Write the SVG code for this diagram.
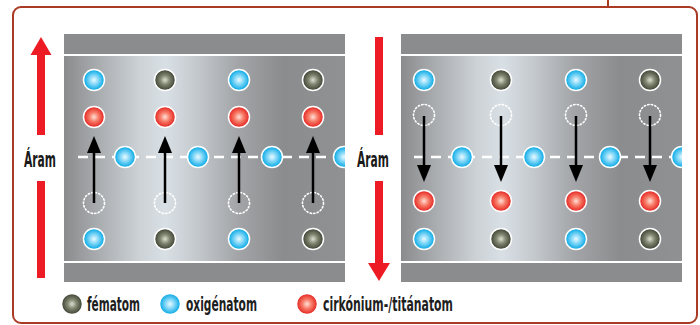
<svg xmlns="http://www.w3.org/2000/svg" xmlns:xlink="http://www.w3.org/1999/xlink" width="700" height="325" viewBox="0 0 700 325">
  <style>
    .frame { fill: none; stroke: #aa3a24; stroke-width: 2; }
    .band { fill: #8b8c8e; }
    .sep { fill: #ffffff; }
    .dash { stroke: #ffffff; stroke-width: 2.5; stroke-dasharray: 10 7; fill: none; }
    .ghost { fill: none; stroke: #ffffff; stroke-width: 1.6; stroke-dasharray: 1.4 2.2; stroke-linecap: round; }
    .shaft { stroke: #000000; stroke-width: 2.5; fill: none; }
    .head { fill: #000000; }
    .red { fill: #ed1c24; }
    .lbl { font-family: "Liberation Sans Narrow", "DejaVu Sans Condensed", "Liberation Sans", sans-serif; font-weight: bold; font-size: 21px; fill: #1a1a1a; }
    .leg { font-family: "Liberation Sans Narrow", "DejaVu Sans Condensed", "Liberation Sans", sans-serif; font-weight: bold; font-size: 20px; fill: #1e1e1e; }
    .atom { stroke: #ffffff; stroke-width: 1.5; }
  </style>
  <defs>
    <linearGradient id="metal" x1="0" y1="0" x2="1" y2="0">
      <stop offset="0" stop-color="#8a8b8d"/>
      <stop offset="0.12" stop-color="#a9acaf"/>
      <stop offset="0.27" stop-color="#ccd2d6"/>
      <stop offset="0.36" stop-color="#d9e0e5"/>
      <stop offset="0.48" stop-color="#c2c7cb"/>
      <stop offset="0.62" stop-color="#a2a4a7"/>
      <stop offset="0.78" stop-color="#8b8c8e"/>
      <stop offset="1" stop-color="#909193"/>
    </linearGradient>
    <radialGradient id="gBlue" cx="0.5" cy="0.5" r="0.5">
      <stop offset="0" stop-color="#eafaff"/>
      <stop offset="0.45" stop-color="#7fd6f7"/>
      <stop offset="1" stop-color="#00a6e4"/>
    </radialGradient>
    <radialGradient id="gRed" cx="0.5" cy="0.5" r="0.5">
      <stop offset="0" stop-color="#ffe0d8"/>
      <stop offset="0.45" stop-color="#f77a66"/>
      <stop offset="1" stop-color="#e3211f"/>
    </radialGradient>
    <radialGradient id="gDark" cx="0.5" cy="0.5" r="0.5">
      <stop offset="0" stop-color="#dcdfd0"/>
      <stop offset="0.45" stop-color="#7f8570"/>
      <stop offset="1" stop-color="#3b4131"/>
    </radialGradient>
    <symbol id="oxy" overflow="visible"><circle class="atom" r="10.5" fill="url(#gBlue)"/></symbol>
    <symbol id="zr" overflow="visible"><circle class="atom" r="10.5" fill="url(#gRed)"/></symbol>
    <symbol id="fe" overflow="visible"><circle class="atom" r="10.5" fill="url(#gDark)"/></symbol>
    <symbol id="vac" overflow="visible"><circle class="ghost" r="10.5"/></symbol>
    <clipPath id="clipL"><rect x="64" y="34" width="281" height="248"/></clipPath>
    <clipPath id="clipR"><rect x="401" y="34" width="281" height="248"/></clipPath>
  </defs>

  <rect width="700" height="325" fill="#ffffff"/>

  <!-- outer frame with tab line -->
  <g id="frame">
    <rect class="frame" x="13" y="7" width="684" height="316" rx="8"/>
    <line class="frame" x1="608" y1="0" x2="608" y2="7"/>
  </g>

  <!-- left panel: ions move upward -->
  <g id="panel-left" clip-path="url(#clipL)">
    <rect class="band" x="64" y="34" width="281" height="20"/>
    <rect class="sep" x="64" y="54" width="281" height="2"/>
    <rect x="64" y="56" width="281" height="205" fill="url(#metal)"/>
    <rect class="sep" x="64" y="261" width="281" height="2"/>
    <rect class="band" x="64" y="263" width="281" height="19"/>
    <line class="dash" x1="78" y1="157" x2="345" y2="157"/>
    <g id="left-top-row">
      <use href="#oxy" x="94" y="80"/>
      <use href="#fe" x="165" y="80"/>
      <use href="#oxy" x="239" y="80"/>
      <use href="#fe" x="313" y="80"/>
    </g>
    <g id="left-cations">
      <use href="#zr" x="94" y="117"/>
      <use href="#zr" x="165" y="117"/>
      <use href="#zr" x="239" y="117"/>
      <use href="#zr" x="313" y="117"/>
    </g>
    <g id="left-vacancies">
      <use href="#vac" x="94" y="203"/>
      <use href="#vac" x="165" y="203"/>
      <use href="#vac" x="239" y="203"/>
      <use href="#vac" x="313" y="203"/>
    </g>
    <g id="left-mid-row">
      <use href="#oxy" x="125" y="157"/>
      <use href="#oxy" x="198" y="157"/>
      <use href="#oxy" x="272" y="157"/>
      <use href="#oxy" x="344" y="157"/>
    </g>
    <g id="left-bottom-row">
      <use href="#oxy" x="94" y="239"/>
      <use href="#fe" x="165" y="239"/>
      <use href="#oxy" x="239" y="239"/>
      <use href="#fe" x="313" y="239"/>
    </g>
  </g>

  <!-- right panel: ions move downward -->
  <g id="panel-right" clip-path="url(#clipR)">
    <rect class="band" x="401" y="34" width="281" height="20"/>
    <rect class="sep" x="401" y="54" width="281" height="2"/>
    <rect x="401" y="56" width="281" height="205" fill="url(#metal)"/>
    <rect class="sep" x="401" y="261" width="281" height="2"/>
    <rect class="band" x="401" y="263" width="281" height="19"/>
    <line class="dash" x1="414" y1="157" x2="682" y2="157"/>
    <g id="right-top-row">
      <use href="#oxy" x="424" y="80"/>
      <use href="#fe" x="501" y="80"/>
      <use href="#oxy" x="576" y="80"/>
      <use href="#fe" x="650" y="80"/>
    </g>
    <g id="right-vacancies">
      <use href="#vac" x="424" y="115"/>
      <use href="#vac" x="501" y="115"/>
      <use href="#vac" x="576" y="115"/>
      <use href="#vac" x="650" y="115"/>
    </g>
    <g id="right-mid-row">
      <use href="#oxy" x="462" y="157"/>
      <use href="#oxy" x="534" y="157"/>
      <use href="#oxy" x="610" y="157"/>
      <use href="#oxy" x="682" y="157"/>
    </g>
    <g id="right-cations">
      <use href="#zr" x="424" y="201"/>
      <use href="#zr" x="501" y="201"/>
      <use href="#zr" x="576" y="201"/>
      <use href="#zr" x="650" y="201"/>
    </g>
    <g id="right-bottom-row">
      <use href="#oxy" x="424" y="239"/>
      <use href="#fe" x="501" y="239"/>
      <use href="#oxy" x="576" y="239"/>
      <use href="#fe" x="650" y="239"/>
    </g>
  </g>

  <!-- ion displacement arrows -->
  <g id="connectors">
    <g id="moves-up">
      <line class="shaft" x1="94" y1="203" x2="94" y2="150"/>
      <polygon class="head" points="94,136 87,153 101,153"/>
      <line class="shaft" x1="165" y1="203" x2="165" y2="150"/>
      <polygon class="head" points="165,136 158,153 172,153"/>
      <line class="shaft" x1="239" y1="203" x2="239" y2="150"/>
      <polygon class="head" points="239,136 232,153 246,153"/>
      <line class="shaft" x1="313" y1="203" x2="313" y2="150"/>
      <polygon class="head" points="313,136 306,153 320,153"/>
    </g>
    <g id="moves-down">
      <line class="shaft" x1="424" y1="116" x2="424" y2="168"/>
      <polygon class="head" points="424,182 417,165 431,165"/>
      <line class="shaft" x1="501" y1="116" x2="501" y2="168"/>
      <polygon class="head" points="501,182 494,165 508,165"/>
      <line class="shaft" x1="576" y1="116" x2="576" y2="168"/>
      <polygon class="head" points="576,182 569,165 583,165"/>
      <line class="shaft" x1="650" y1="116" x2="650" y2="168"/>
      <polygon class="head" points="650,182 643,165 657,165"/>
    </g>
  </g>

  <!-- current direction, left -->
  <g id="current-left">
    <polygon class="red" points="41,37 30.5,55 51.5,55"/>
    <rect class="red" x="37" y="54" width="8" height="81"/>
    <text class="lbl" x="40" y="167" text-anchor="middle" textLength="32" lengthAdjust="spacingAndGlyphs">Áram</text>
    <rect class="red" x="37" y="181" width="8" height="97"/>
  </g>

  <!-- current direction, right -->
  <g id="current-right">
    <rect class="red" x="375" y="37" width="8" height="98"/>
    <text class="lbl" x="373" y="167" text-anchor="middle" textLength="32" lengthAdjust="spacingAndGlyphs">Áram</text>
    <rect class="red" x="375" y="181" width="8" height="83"/>
    <polygon class="red" points="379,281 368,263 390,263"/>
  </g>

  <!-- legend -->
  <g id="legend">
    <g id="legend-fe">
      <use href="#fe" x="72" y="304"/>
      <text class="leg" x="87" y="311" textLength="53" lengthAdjust="spacingAndGlyphs">fématom</text>
    </g>
    <g id="legend-oxy">
      <use href="#oxy" x="170" y="304"/>
      <text class="leg" x="186" y="311" textLength="71" lengthAdjust="spacingAndGlyphs">oxigénatom</text>
    </g>
    <g id="legend-zr">
      <use href="#zr" x="307" y="304"/>
      <text class="leg" x="323" y="311" textLength="130" lengthAdjust="spacingAndGlyphs">cirkónium-/titánatom</text>
    </g>
  </g>
</svg>
